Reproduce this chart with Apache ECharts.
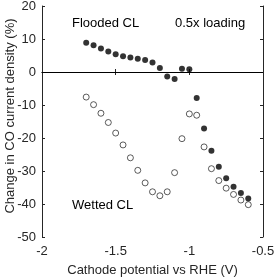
<!DOCTYPE html>
<html><head><meta charset="utf-8">
<script src="https://cdn.jsdelivr.net/npm/echarts@6/dist/echarts.min.js"></script>
<style>html,body{margin:0;padding:0;background:#fff}#c{width:275px;height:278px}</style>
</head><body><div id="c"></div>
<script>
const potentials = [-1.70,-1.65,-1.60,-1.55,-1.50,-1.45,-1.40,-1.35,-1.30,-1.25,-1.20,-1.15,-1.10,-1.05,-1.00,-0.95,-0.90,-0.85,-0.80,-0.75,-0.70,-0.65,-0.60];
const flooded = [8.9,8.1,7.1,6.2,5.4,4.8,4.4,4.0,3.6,2.9,1.2,-1.4,-2.1,1.0,0.8,-7.9,-17.1,-23.9,-28.7,-32.2,-34.8,-36.7,-38.3];
const wetted = [-7.6,-9.9,-12.5,-15.3,-18.5,-22.1,-26.0,-29.8,-33.6,-36.3,-37.5,-36.3,-30.5,-20.2,-12.7,-13.1,-22.7,-29.3,-32.9,-35.2,-37.1,-38.8,-40.2];
const xTicks = [-2,-1.5,-1,-0.5];
const yTicks = [-50,-40,-30,-20,-10,0,10,20];

const C = '#262626';
const font = 'Liberation Sans, Arial, sans-serif';
const chart = echarts.init(document.getElementById('c'), null, {renderer:'canvas'});
const axCommon = {
  axisLine:{show:true,lineStyle:{color:C,width:1}},
  axisTick:{show:true,inside:true,length:3,lineStyle:{color:C}},
  splitLine:{show:false}
};
chart.setOption({
  animation:false,
  grid:{left:42,top:6,right:12,bottom:41,containLabel:false,outerBoundsMode:'none'},
  xAxis:[
    Object.assign({type:'value',min:xTicks[0],max:xTicks[xTicks.length-1],interval:0.5,position:'bottom',
      axisLabel:{color:C,fontSize:13,fontFamily:font,margin:8},
      name:'Cathode potential vs RHE (V)',nameLocation:'middle',nameGap:27,
      nameTextStyle:{color:C,fontSize:13,fontFamily:font}},axCommon),
    Object.assign({type:'value',min:xTicks[0],max:xTicks[xTicks.length-1],interval:0.5,position:'top',
      axisLabel:{show:false}},axCommon)
  ],
  yAxis:[
    Object.assign({type:'value',min:yTicks[0],max:yTicks[yTicks.length-1],interval:10,position:'left',
      axisLabel:{color:C,fontSize:13,fontFamily:font,margin:6}},axCommon),
    Object.assign({type:'value',min:yTicks[0],max:yTicks[yTicks.length-1],interval:10,position:'right',
      axisLabel:{show:false}},axCommon)
  ],
  series:[
    {type:'scatter',data:potentials.map((p,i)=>[p,wetted[i]]),symbol:'circle',symbolSize:6,
     itemStyle:{color:'#fff',borderColor:'#000',borderWidth:0.8},
     markLine:{silent:true,symbol:'none',label:{show:false},lineStyle:{color:'#000',width:1,type:'solid'},data:[{yAxis:0}]}},
    {type:'scatter',data:potentials.map((p,i)=>[p,flooded[i]]),symbol:'circle',symbolSize:6,
     itemStyle:{color:'#000'}}
  ],
  graphic:[
    {type:'text',x:10,y:116,rotation:Math.PI/2,style:{text:'Change in CO current density (%)',fill:C,font:'13px '+font,textAlign:'center',textVerticalAlign:'middle'}},
    {type:'text',left:72,top:17,style:{text:'Flooded CL',fill:'#000',font:'13px '+font}},
    {type:'text',left:175,top:17,style:{text:'0.5x loading',fill:'#000',font:'13px '+font}},
    {type:'text',left:72,top:199,style:{text:'Wetted CL',fill:'#000',font:'13px '+font}}
  ]
});
</script></body></html>
